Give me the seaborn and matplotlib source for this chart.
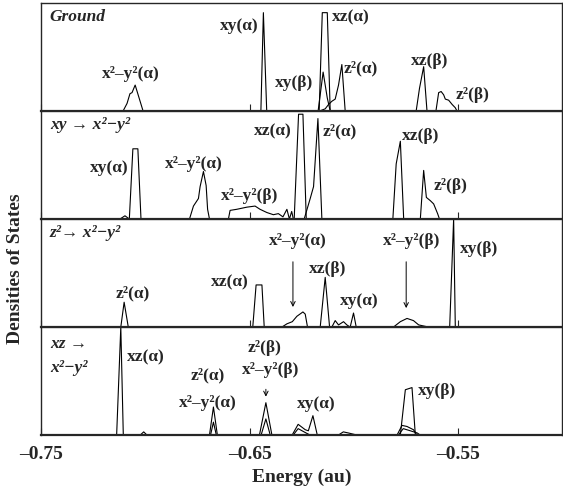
import pandas as pd
import seaborn as sns
from matplotlib import pyplot as plt

# ---------------------------------------------------------------
# DATA: energies (au) and densities (fraction of panel height)
# ---------------------------------------------------------------
baseline_E = [-0.75, -0.5356]
baseline_D = [0.0, 0.0]

# panel 1: ground state
ground = {
    "x2y2_a": ([-0.7108, -0.7089, -0.7075, -0.7065, -0.7050, -0.7012],
               [0, 0.07, 0.16, 0.17, 0.24, 0]),
    "xy_a": ([-0.6446, -0.6434, -0.6418], [0, 0.91, 0]),
    "xz_a": ([-0.6166, -0.6151, -0.6127, -0.6113], [0, 0.91, 0.91, 0]),
    "xy_b": ([-0.6171, -0.6147, -0.6127, -0.6113], [0, 0.36, 0.12, 0]),
    "z2_a": ([-0.6164, -0.6137, -0.6121, -0.6105, -0.6089, -0.6073, -0.6057, -0.6041],
             [0, 0.02, 0.06, 0.09, 0.11, 0.24, 0.43, 0]),
    "xz_b": ([-0.5700, -0.5684, -0.5664, -0.5648], [0, 0.21, 0.41, 0]),
    "z2_b": ([-0.5605, -0.5592, -0.5580, -0.5568, -0.5560, -0.5544, -0.5527, -0.5512, -0.5504],
             [0, 0.17, 0.18, 0.15, 0.11, 0.10, 0.06, 0.03, 0]),
}

# panel 2: xy -> x2-y2
xy_exc = {
    "bump": ([-0.7123, -0.7099, -0.7078], [0, 0.03, 0]),
    "xy_a": ([-0.7078, -0.7061, -0.7037, -0.7022], [0, 0.65, 0.65, 0]),
    "x2y2_a": ([-0.6789, -0.6770, -0.6746, -0.6738, -0.6722, -0.6709, -0.6702, -0.6693],
               [0, 0.12, 0.19, 0.30, 0.44, 0.31, 0.09, 0]),
    "x2y2_b": ([-0.6602, -0.6594, -0.6562, -0.6513, -0.6474, -0.6450, -0.6417,
                -0.6386, -0.6362, -0.6340, -0.6321, -0.6309, -0.6298, -0.6290],
               [0, 0.08, 0.09, 0.11, 0.12, 0.09, 0.06, 0.04, 0.05, 0.02, 0.09, 0.0, 0.07, 0]),
    "xz_a": ([-0.6286, -0.6265, -0.6244, -0.6228], [0, 0.97, 0.97, 0]),
    "z2_a": ([-0.6238, -0.6209, -0.6193, -0.6172, -0.6153], [0, 0.19, 0.30, 0.93, 0]),
    "xz_b": ([-0.5812, -0.5796, -0.5776, -0.5760], [0, 0.51, 0.72, 0]),
    "z2_b": ([-0.5680, -0.5664, -0.5651, -0.5632, -0.5616, -0.5597, -0.5588],
             [0, 0.45, 0.20, 0.17, 0.14, 0.05, 0]),
}

# panel 3: z2 -> x2-y2
z2_exc = {
    "z2_a": ([-0.7119, -0.7103, -0.7083], [0, 0.23, 0]),
    "xz_a": ([-0.6485, -0.6469, -0.6441, -0.6430], [0, 0.39, 0.39, 0]),
    "x2y2_a": ([-0.6345, -0.6321, -0.6295, -0.6273, -0.6244, -0.6233, -0.6222],
               [0, 0.03, 0.05, 0.10, 0.14, 0.12, 0]),
    "xz_b": ([-0.6161, -0.6137, -0.6116], [0, 0.46, 0]),
    "small": ([-0.6105, -0.6089, -0.6073, -0.6049, -0.6033, -0.6017],
              [0, 0.06, 0.02, 0.05, 0.02, 0]),
    "xy_a": ([-0.6017, -0.6001, -0.5988], [0, 0.13, 0]),
    "x2y2_b": ([-0.5809, -0.5776, -0.5744, -0.5713, -0.5688, -0.5640],
               [0, 0.05, 0.08, 0.06, 0.02, 0]),
    "xy_b": ([-0.5539, -0.5520, -0.5512], [0, 1.0, 0]),
}

# panel 4: xz -> x2-y2
xz_exc = {
    "xz_a": ([-0.7139, -0.7119, -0.7107], [0, 1.0, 0]),
    "bump": ([-0.7026, -0.7009, -0.6993], [0, 0.03, 0]),
    "z2_a": ([-0.6693, -0.6674, -0.6655], [0, 0.26, 0]),
    "x2y2_a": ([-0.6688, -0.6674, -0.6660], [0, 0.12, 0]),
    "z2_b": ([-0.6453, -0.6422, -0.6393], [0, 0.30, 0]),
    "x2y2_b": ([-0.6445, -0.6422, -0.6401], [0, 0.15, 0]),
    "xy_a": ([-0.6296, -0.6267, -0.6233, -0.6218, -0.6196, -0.6175],
             [0, 0.10, 0.05, 0.04, 0.18, 0]),
    "xy_a2": ([-0.6291, -0.6267, -0.6229, -0.6209], [0, 0.06, 0.02, 0]),
    "small": ([-0.6074, -0.6050, -0.6026, -0.5983], [0, 0.03, 0.02, 0]),
    "xy_b": ([-0.5776, -0.5752, -0.5720, -0.5704], [0, 0.42, 0.44, 0]),
    "xy_b2": ([-0.5792, -0.5768, -0.5744, -0.5713, -0.5696], [0, 0.09, 0.08, 0.05, 0]),
    "xy_b3": ([-0.5786, -0.5762, -0.5728, -0.5695, -0.5680], [0, 0.06, 0.04, 0.02, 0]),
}

panels = [ground, xy_exc, z2_exc, xz_exc]

# panel titles
titles = [["Ground"], ["xy \u2192 x\u00b2\u2212y\u00b2"], ["z\u00b2\u2192 x\u00b2\u2212y\u00b2"],
          ["xz \u2192", "x\u00b2\u2212y\u00b2"]]

# peak labels: (text, energy, height, alignment)
X2Y2 = "x\u00b2\u2013y\u00b2"
labels = [
    [(X2Y2 + "(\u03b1)", -0.707, 0.34, "center"), ("xy(\u03b1)", -0.6459, 0.79, "right"),
     ("xz(\u03b1)", -0.6103, 0.87, "left"), ("xy(\u03b2)", -0.6377, 0.26, "left"),
     ("z\u00b2(\u03b1)", -0.6050, 0.39, "left"), ("xz(\u03b2)", -0.5633, 0.46, "center"),
     ("z\u00b2(\u03b2)", -0.5512, 0.15, "left")],
    [("xy(\u03b1)", -0.7084, 0.47, "right"), (X2Y2 + "(\u03b1)", -0.6767, 0.51, "center"),
     (X2Y2 + "(\u03b2)", -0.6498, 0.21, "center"), ("xz(\u03b1)", -0.6296, 0.81, "right"),
     ("z\u00b2(\u03b1)", -0.6147, 0.81, "left"), ("xz(\u03b2)", -0.5680, 0.77, "center"),
     ("z\u00b2(\u03b2)", -0.5618, 0.31, "left")],
    [("z\u00b2(\u03b1)", -0.7060, 0.31, "center"), ("xz(\u03b1)", -0.6507, 0.41, "right"),
     (X2Y2 + "(\u03b1)", -0.6267, 0.80, "center"), ("xz(\u03b2)", -0.6127, 0.54, "center"),
     ("xy(\u03b1)", -0.5974, 0.24, "center"), (X2Y2 + "(\u03b2)", -0.5720, 0.80, "center"),
     ("xy(\u03b2)", -0.5488, 0.72, "left")],
    [("xz(\u03b1)", -0.7089, 0.72, "left"), ("z\u00b2(\u03b1)", -0.6700, 0.55, "center"),
     (X2Y2 + "(\u03b1)", -0.6700, 0.30, "center"), ("z\u00b2(\u03b2)", -0.6430, 0.81, "center"),
     (X2Y2 + "(\u03b2)", -0.6400, 0.60, "center"), ("xy(\u03b1)", -0.6180, 0.29, "center"),
     ("xy(\u03b2)", -0.5690, 0.41, "left")],
]

# arrows: (energy, start height, end height)
arrows = [[], [], [(-0.6292, 0.63, 0.16), (-0.5748, 0.63, 0.15)], [(-0.6422, 0.45, 0.33)]]

xticks = [-0.75, -0.65, -0.55]
xticklabels = ["\u20130.75", "\u20130.65", "\u20130.55"]

# ---------------------------------------------------------------
# PLOT
# ---------------------------------------------------------------
sns.set_style("ticks")
plt.rcParams["font.family"] = ["Liberation Serif", "DejaVu Serif"]
plt.rcParams["font.weight"] = "bold"

fig, axes = plt.subplots(4, 1, sharex=True, figsize=(5.63, 4.90), dpi=100,
                         gridspec_kw={"hspace": 0})
fig.subplots_adjust(left=0.0737, right=0.998, bottom=0.112, top=0.994)

for i, ax in enumerate(axes):
    rows = []
    curves = dict(panels[i])
    curves["base"] = (baseline_E, baseline_D)
    for name, (E, D) in curves.items():
        for k, (e, d) in enumerate(zip(E, D)):
            rows.append({"curve": name, "order": k, "energy": e, "dos": d})
    df = pd.DataFrame(rows)
    sns.lineplot(data=df, x="energy", y="dos", units="curve", estimator=None, sort=False,
                 color="black", lw=0.8, ax=ax, legend=False)

    ax.set_xlim(-0.75, -0.50)
    ax.set_ylim(0, 1.0)
    ax.set_yticks([])
    ax.set_xlabel("")
    ax.set_ylabel("")
    for s in ax.spines.values():
        s.set_linewidth(1.0)
    ax.spines["bottom"].set_linewidth(1.6)
    ax.tick_params(axis="x", direction="in", length=5, width=0.8)

    # panel title
    if len(titles[i]) == 1:
        ax.text(0.016, 0.87, titles[i][0], transform=ax.transAxes, fontsize=12.5,
                style="italic", weight="bold", va="center", ha="left")
    else:
        ax.text(0.016, 0.84, titles[i][0], transform=ax.transAxes, fontsize=12.5,
                style="italic", weight="bold", va="center", ha="left")
        ax.text(0.016, 0.62, titles[i][1], transform=ax.transAxes, fontsize=12.5,
                style="italic", weight="bold", va="center", ha="left")

    for txt, e, h, ha in labels[i]:
        ax.text(e, h, txt, fontsize=12.5, weight="bold", ha=ha, va="center")

    for e, h0, h1 in arrows[i]:
        ax.annotate("", xy=(e, h1), xytext=(e, h0),
                    arrowprops=dict(arrowstyle="->", color="black", lw=0.7,
                                    mutation_scale=8))

axes[-1].set_xticks(xticks)
axes[-1].set_xticklabels(xticklabels, fontsize=14, weight="bold")
axes[-1].tick_params(axis="x", pad=8)
axes[-1].set_xlabel("Energy (au)", fontsize=14, weight="bold", labelpad=4)

fig.text(0.027, 0.451, "Densities of States", rotation=90, fontsize=14, weight="bold",
         ha="center", va="center")

plt.savefig("out.png", dpi=100)
plt.close()
